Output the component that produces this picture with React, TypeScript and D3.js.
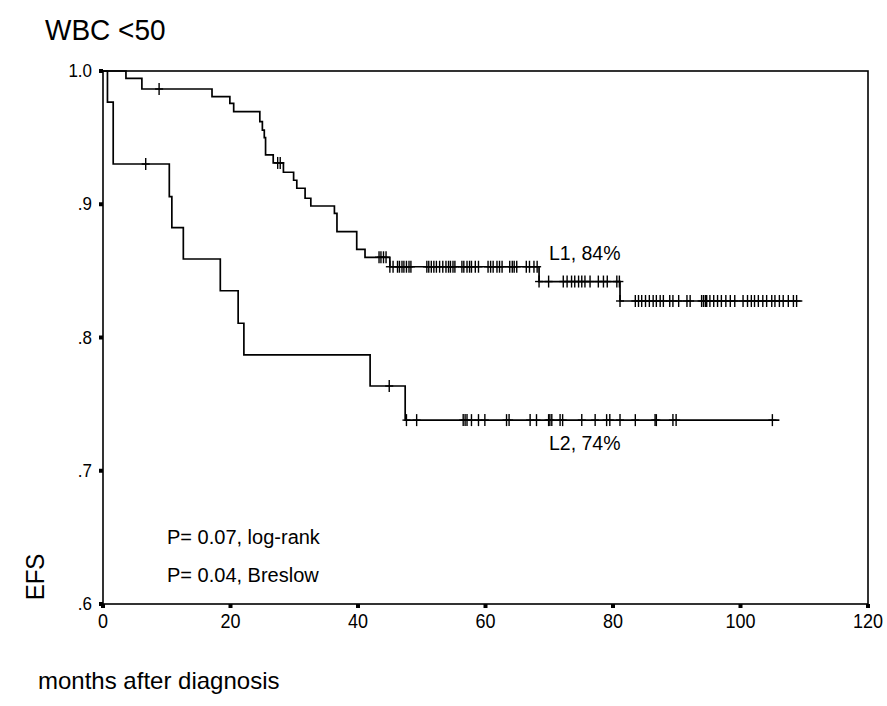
import React from "react";
import * as d3 from "d3";

// ---- data ----
const xTicks = [0, 20, 40, 60, 80, 100, 120];
const yTicks = [0.6, 0.7, 0.8, 0.9, 1.0];
const yTickLabels = [".6", ".7", ".8", ".9", "1.0"];

const l1EventTimes = [3.6, 6.1, 17.1, 19.9, 20.5, 24.6, 25.0, 25.3, 25.5, 26.7, 28.3, 29.9, 30.4, 31.7, 32.6, 36.3, 36.7, 39.8, 41.1, 45.0, 68.4, 81.1];
const l1EventSurv = [0.9945, 0.9865, 0.9807, 0.9757, 0.9695, 0.962, 0.9557, 0.95, 0.937, 0.931, 0.924, 0.918, 0.912, 0.9045, 0.8987, 0.8932, 0.8794, 0.8662, 0.8602, 0.8531, 0.842, 0.8274];
const l1End = 109.7;
const l1Censor = [
  8.8, 27.4, 27.8, 43.3, 43.6, 44.0, 44.4,
  45.0, 45.5, 46.2, 46.5, 46.9, 47.2, 47.6, 48.0, 48.3,
  50.8, 51.1, 51.5, 51.9, 52.3, 52.8, 53.3, 53.8, 54.2, 54.5, 54.9, 55.2,
  56.3, 56.6, 57.1, 57.5, 57.8, 58.4, 58.9,
  60.4, 60.8, 61.2, 61.8, 62.2, 62.6, 63.8, 64.2, 64.5, 64.9,
  66.4, 66.9, 67.6, 68.1,
  68.4, 69.9, 72.2, 72.8, 73.5, 74.0, 74.6, 75.1, 75.6, 76.4, 77.7, 78.5, 79.1, 80.6, 81.0,
  81.1, 83.5, 84.0, 84.5, 85.1, 85.7, 86.3, 86.8, 87.4, 87.9, 88.9, 89.4, 90.3, 91.6, 92.1,
  93.9, 94.2, 94.5, 94.7, 95.2, 95.8, 96.4, 97.0, 97.7, 98.4, 99.1, 100.4, 101.1, 101.7,
  102.2, 102.8, 103.5, 104.1, 104.9, 105.4, 106.1, 106.7, 107.5, 108.3, 108.8,
];

const l2EventTimes = [0.7, 1.6, 10.4, 10.8, 12.6, 18.4, 21.2, 22.1, 41.9, 47.4];
const l2EventSurv = [0.9767, 0.9302, 0.9057, 0.8824, 0.8589, 0.8351, 0.8107, 0.7869, 0.7636, 0.738];
const l2End = 106.1;
const l2Censor = [
  6.7, 44.9, 47.6, 49.2, 56.5, 56.8, 57.1, 57.8, 58.9, 59.9, 63.3, 63.7, 67.0, 68.0,
  69.9, 70.1, 70.4, 71.7, 72.1, 75.1, 77.2, 79.0, 79.5, 81.1, 83.5, 86.6, 86.8, 89.4, 89.9, 105.0,
];

const curveLabels = ["L1, 84%", "L2, 74%"];
const title = "WBC <50";
const yTitle = "EFS";
const xTitle = "months after diagnosis";
const pTexts = ["P= 0.07, log-rank", "P= 0.04, Breslow"];

// ---- layout ----
const W = 887, H = 706;
const X0 = 103, X1 = 868, Y0 = 604, Y1 = 71;
const FONT = "'Liberation Sans', Arial, sans-serif";

const x = d3.scaleLinear().domain([0, 120]).range([X0, X1]);
const y = d3.scaleLinear().domain([0.6, 1.0]).range([Y0, Y1]);

function survAt(times: number[], surv: number[], t: number) {
  let s = 1;
  for (let i = 0; i < times.length; i++) if (times[i] <= t) s = surv[i];
  return s;
}

function stepPoints(times: number[], surv: number[], end: number): [number, number][] {
  const pts: [number, number][] = [[0, 1]];
  times.forEach((t, i) => pts.push([t, surv[i]]));
  pts.push([end, surv[surv.length - 1]]);
  return pts;
}

const line = d3
  .line<[number, number]>()
  .x((d) => x(d[0]))
  .y((d) => y(d[1]))
  .curve(d3.curveStepAfter);

function T(props: { x: number; y: number; size: number; anchor?: string; rotate?: number; sy?: number; children: React.ReactNode }) {
  const { x: tx, y: ty, size, anchor = "start", rotate = 0, sy = 1, children } = props;
  return (
    <text
      transform={`translate(${tx},${ty}) rotate(${rotate}) scale(1,${sy})`}
      fontFamily={FONT}
      fontSize={size}
      textAnchor={anchor}
      fill="#000"
    >
      {children}
    </text>
  );
}

function Censors({ times, surv, cens }: { times: number[]; surv: number[]; cens: number[] }) {
  return (
    <g stroke="#000" strokeWidth={1.4}>
      {cens.map((c, i) => {
        const cx = x(c);
        const cy = y(survAt(times, surv, c));
        return (
          <g key={i}>
            <line x1={cx} x2={cx} y1={cy - 6} y2={cy + 6} />
            <line x1={cx - 4} x2={cx + 4} y1={cy} y2={cy} />
          </g>
        );
      })}
    </g>
  );
}

export default function App() {
  return (
    <svg width={W} height={H} style={{ position: "absolute", left: 0, top: 0, display: "block", background: "#fff" }}>
      <rect x={0} y={0} width={W} height={H} fill="#fff" />
      {/* frame */}
      <rect x={X0} y={Y1} width={X1 - X0} height={Y0 - Y1} fill="none" stroke="#000" strokeWidth={1.6} />
      {/* tick squares */}
      {xTicks.map((t) => (
        <rect key={"xt" + t} x={x(t) - 2} y={Y0} width={4} height={4} fill="#000" />
      ))}
      {yTicks.map((t) => (
        <rect key={"yt" + t} x={X0 - 4} y={y(t) - 2} width={4} height={4} fill="#000" />
      ))}
      {xTicks.map((t) => (
        <T key={"xl" + t} x={x(t)} y={628} size={18} sy={1.12} anchor="middle">{t}</T>
      ))}
      {yTicks.map((t, i) => (
        <T key={"yl" + t} x={92} y={y(t) + 6} size={17} sy={1.1} anchor="end">{yTickLabels[i]}</T>
      ))}
      {/* curves */}
      <path d={line(stepPoints(l1EventTimes, l1EventSurv, l1End)) || ""} fill="none" stroke="#000" strokeWidth={1.7} />
      <path d={line(stepPoints(l2EventTimes, l2EventSurv, l2End)) || ""} fill="none" stroke="#000" strokeWidth={1.7} />
      <Censors times={l1EventTimes} surv={l1EventSurv} cens={l1Censor} />
      <Censors times={l2EventTimes} surv={l2EventSurv} cens={l2Censor} />
      {/* annotations */}
      <T x={549} y={260} size={19.5}>{curveLabels[0]}</T>
      <T x={549} y={450} size={19.5}>{curveLabels[1]}</T>
      <T x={167} y={544} size={20}>{pTexts[0]}</T>
      <T x={167} y={582} size={20}>{pTexts[1]}</T>
      {/* titles */}
      <T x={45} y={40} size={28} sy={1.08}>{title}</T>
      <T x={44} y={577} size={24} anchor="middle" rotate={-90} sy={1.1}>{yTitle}</T>
      <T x={38} y={689} size={24}>{xTitle}</T>
    </svg>
  );
}
